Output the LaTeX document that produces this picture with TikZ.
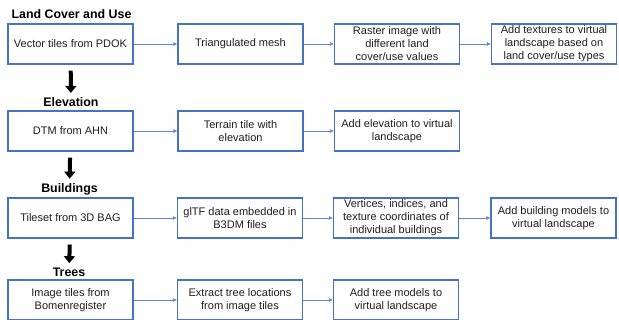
\documentclass[tikz,border=0pt]{standalone}
\usepackage{fontspec}
\setmainfont{Liberation Sans}
\usepackage{tikz}
\usetikzlibrary{arrows.meta,positioning}
\definecolor{boxBlue}{RGB}{68,114,196}
\definecolor{lineBlue}{RGB}{96,136,208}
\definecolor{txtDark}{RGB}{30,30,30}

\begin{document}
\begin{tikzpicture}[x=1pt,y=1pt,
  stage/.style={draw=boxBlue, line width=1.1pt, minimum width=125pt, minimum height=40pt,
    align=center, inner sep=1pt, text=txtDark, font=\fontsize{11}{13}\selectfont},
  title/.style={text=black, font=\bfseries\fontsize{12.4}{14}\selectfont},
  flow/.style={lineBlue, line width=0.6pt, -{Latex[length=4pt,width=4pt]}},
  down/.style={black, line width=4pt, -{Triangle[length=7pt,width=11pt]},
    shorten <=6pt, shorten >=1pt}]
\useasboundingbox (0,0) rectangle (619,320);
% land cover and use
\node[title, anchor=west] (landuse) at (8,306) {Land Cover and Use};
\node[stage] (pdok) at (70.5,276) {Vector tiles from PDOK};
\node[stage] (mesh) at (240.5,276) {Triangulated mesh};
\node[stage] (raster) at (397,276) {Raster image with\\different land\\cover/use values};
\node[stage] (texture) at (554,276) {Add textures to virtual\\landscape based on\\land cover/use types};
\draw[flow] (pdok) -- (mesh);
\draw[flow] (mesh) -- (raster);
\draw[flow] (raster) -- (texture);
% elevation
\node[title] (elevation) at (71,218) {Elevation};
\node[stage] (ahn) at (70.5,189) {DTM from AHN};
\node[stage] (terrain) at (240.5,189) {Terrain tile with\\elevation};
\node[stage] (addelev) at (397,189) {Add elevation to virtual\\landscape};
\draw[flow] (ahn) -- (terrain);
\draw[flow] (terrain) -- (addelev);
% buildings
\node[title] (buildings) at (69.5,131) {Buildings};
\node[stage] (bag) at (70.5,102) {Tileset from 3D BAG};
\node[stage] (gltf) at (240,102) {glTF data embedded in\\B3DM files};
\node[stage] (vertices) at (396,102) {Vertices, indices, and\\texture coordinates of\\individual buildings};
\node[stage] (addbldg) at (553.5,102) {Add building models to\\virtual landscape};
\draw[flow] (bag) -- (gltf);
\draw[flow] (gltf) -- (vertices);
\draw[flow] (vertices) -- (addbldg);
% trees
\node[title] (trees) at (69,48) {Trees};
\node[stage] (bomen) at (70.5,20) {Image tiles from\\Bomenregister};
\node[stage] (extract) at (240,20) {Extract tree locations\\from image tiles};
\node[stage] (addtree) at (396,20) {Add tree models to\\virtual landscape};
\draw[flow] (bomen) -- (extract);
\draw[flow] (extract) -- (addtree);
% steps between the layers
\draw[down] (pdok) -- (elevation);
\draw[down] (ahn) -- (buildings);
\draw[down] (bag) -- (trees);
\end{tikzpicture}
\end{document}
